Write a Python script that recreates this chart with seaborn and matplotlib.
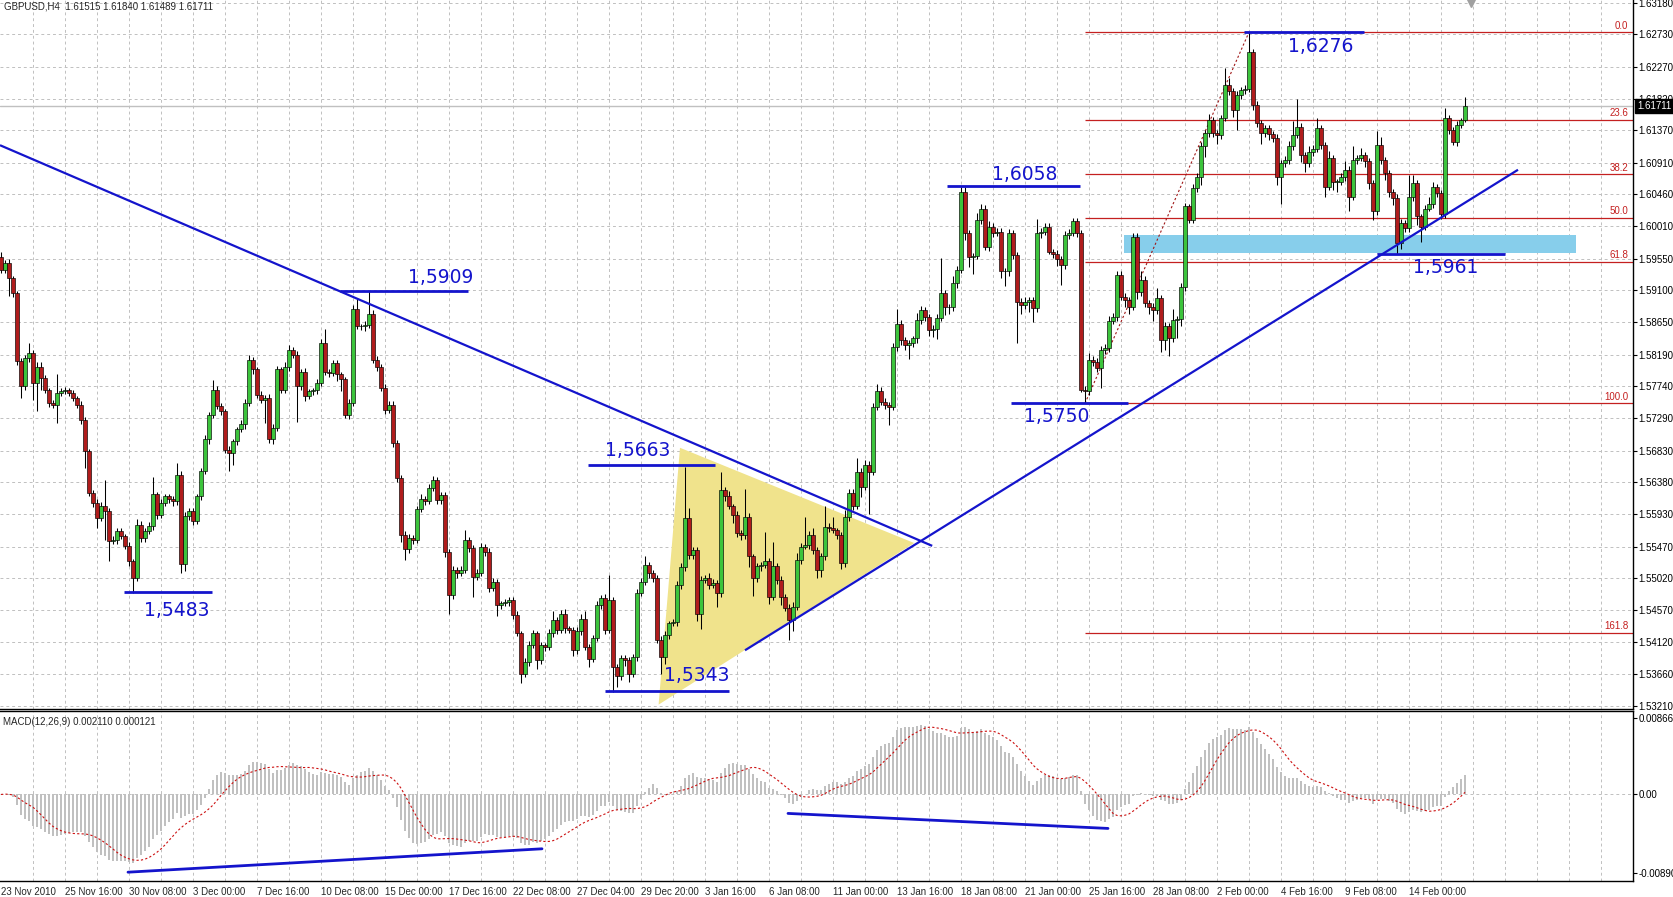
import numpy as np
import pandas as pd
import matplotlib
matplotlib.use("Agg")
import matplotlib.pyplot as plt
import matplotlib.transforms as mtransforms
from matplotlib.patches import Polygon, Rectangle
import seaborn as sns

# =========================
# DATA (GBPUSD H4)
# =========================
first_open = 1.5958

closes = [
    1.5939, 1.5949, 1.5928, 1.5906, 1.5810, 1.5774, 1.5814, 1.5821, 1.5779, 1.5802,
    1.5786, 1.5769, 1.5751, 1.5748, 1.5765, 1.5767, 1.5769, 1.5765, 1.5758, 1.5748,
    1.5727, 1.5682, 1.5623, 1.5609, 1.5588, 1.5604, 1.5597, 1.5555, 1.5557, 1.5569,
    1.5562, 1.5548, 1.5526, 1.5503, 1.5578, 1.5559, 1.5569, 1.5576, 1.5621, 1.5592,
    1.5609, 1.5618, 1.5614, 1.5611, 1.5649, 1.5522, 1.5590, 1.5597, 1.5583, 1.5618,
    1.5654, 1.5699, 1.5734, 1.5769, 1.5746, 1.5739, 1.5684, 1.5680, 1.5696, 1.5713,
    1.5720, 1.5751, 1.5812, 1.5798, 1.5762, 1.5755, 1.5758, 1.5699, 1.5715, 1.5798,
    1.5769, 1.5802, 1.5826, 1.5819, 1.5774, 1.5795, 1.5760, 1.5767, 1.5769, 1.5779,
    1.5836, 1.5795, 1.5793, 1.5807, 1.5791, 1.5784, 1.5734, 1.5751, 1.5883, 1.5859,
    1.5859, 1.5861, 1.5876, 1.5812, 1.5802, 1.5772, 1.5741, 1.5748, 1.5694, 1.5644,
    1.5564, 1.5543, 1.5559, 1.5557, 1.5600, 1.5615, 1.5612, 1.5630, 1.5641, 1.5613,
    1.5620, 1.5540, 1.5478, 1.5514, 1.5509, 1.5514, 1.5556, 1.5545, 1.5504, 1.5509,
    1.5547, 1.5540, 1.5488, 1.5497, 1.5464, 1.5467, 1.5469, 1.5471, 1.5450, 1.5424,
    1.5367, 1.5384, 1.5407, 1.5424, 1.5386, 1.5407, 1.5405, 1.5424, 1.5443, 1.5429,
    1.5452, 1.5431, 1.5429, 1.5400, 1.5428, 1.5445, 1.5405, 1.5388, 1.5417, 1.5464,
    1.5474, 1.5429, 1.5471, 1.5377, 1.5363, 1.5389, 1.5386, 1.5367, 1.5391, 1.5481,
    1.5497, 1.5521, 1.5509, 1.5502, 1.5415, 1.5391, 1.5421, 1.5438, 1.5440, 1.5492,
    1.5518, 1.5587, 1.5535, 1.5542, 1.5452, 1.5500, 1.5503, 1.5493, 1.5496, 1.5481,
    1.5627, 1.5618, 1.5604, 1.5592, 1.5566, 1.5563, 1.5589, 1.5533, 1.5502, 1.5519,
    1.5521, 1.5526, 1.5476, 1.5519, 1.5500, 1.5476, 1.5460, 1.5443, 1.5462, 1.5528,
    1.5547, 1.5549, 1.5563, 1.5542, 1.5514, 1.5533, 1.5575, 1.5574, 1.5570, 1.5563,
    1.5523, 1.5589, 1.5623, 1.5604, 1.5653, 1.5632, 1.5663, 1.5653, 1.5745, 1.5767,
    1.5752, 1.5748, 1.5745, 1.5830, 1.5863, 1.5840, 1.5833, 1.5835, 1.5842, 1.5868,
    1.5882, 1.5873, 1.5854, 1.5856, 1.5871, 1.5906, 1.5887, 1.5886, 1.5920, 1.5939,
    1.6050, 1.5991, 1.5958, 1.5959, 1.6010, 1.6026, 1.5972, 1.6000, 1.5991, 1.5993,
    1.5937, 1.5937, 1.5991, 1.5960, 1.5894, 1.5889, 1.5894, 1.5896, 1.5885, 1.5991,
    1.5993, 1.6000, 1.5965, 1.5962, 1.5955, 1.5946, 1.5989, 1.5991, 1.6008, 1.5991,
    1.5769, 1.5767, 1.5811, 1.5809, 1.5800, 1.5826, 1.5828, 1.5866, 1.5873, 1.5932,
    1.5901, 1.5896, 1.5887, 1.5986, 1.5908, 1.5925, 1.5892, 1.5887, 1.5882, 1.5899,
    1.5840, 1.5859, 1.5842, 1.5868, 1.5870, 1.5915, 1.6029, 1.6010, 1.6055, 1.6071,
    1.6114, 1.6133, 1.6152, 1.6133, 1.6130, 1.6154, 1.6201, 1.6192, 1.6166, 1.6187,
    1.6194, 1.6196, 1.6248, 1.6173, 1.6147, 1.6133, 1.6140, 1.6131, 1.6126, 1.6071,
    1.6090, 1.6095, 1.6114, 1.6130, 1.6142, 1.6102, 1.6090, 1.6106, 1.6111, 1.6140,
    1.6116, 1.6057, 1.6097, 1.6064, 1.6064, 1.6071, 1.6081, 1.6043, 1.6095, 1.6097,
    1.6102, 1.6093, 1.6062, 1.6022, 1.6116, 1.6095, 1.6076, 1.6050, 1.6041, 1.5977,
    1.6005, 1.5998, 1.6043, 1.6062, 1.6015, 1.6000, 1.6026, 1.6033, 1.6057, 1.6048,
    1.6019, 1.6154, 1.6137, 1.6121, 1.6145, 1.6152, 1.6171,
]

# wick lengths in pips above / below the body
upper_wick = [
    6, 4, 5, 3, 3, 4, 5, 15, 4, 6,   7, 4, 3, 4, 26, 5, 4, 3, 4, 3,
    5, 4, 3, 4, 5, 6, 38, 4, 5, 4,   4, 3, 5, 4, 8, 5, 4, 6, 24, 4,
    5, 4, 3, 4, 16, 5, 6, 4, 5, 4,   5, 6, 4, 14, 5, 4, 3, 5, 4, 4,
    6, 5, 7, 4, 3, 5, 4, 5, 6, 5,    4, 6, 7, 4, 5, 4, 5, 4, 3, 6,
    5, 20, 4, 5, 4, 3, 4, 5, 6, 15,  4, 5, 33, 6, 5, 4, 5, 6, 5, 4,
    4, 5, 6, 4, 5, 6, 4, 5, 6, 5,    4, 5, 4, 6, 4, 5, 15, 5, 4, 6,
    5, 4, 5, 6, 4, 3, 4, 5, 4, 5,    4, 5, 6, 5, 4, 5, 4, 6, 12, 4,
    5, 6, 4, 4, 5, 6, 10, 4, 5, 6,   5, 6, 35, 4, 3, 5, 4, 5, 4, 6,
    5, 12, 4, 5, 4, 5, 6, 4, 5, 6,   5, 73, 15, 5, 4, 5, 4, 6, 5, 4,
    25, 5, 8, 4, 5, 4, 40, 5, 4, 5,  4, 42, 5, 35, 4, 5, 4, 5, 6, 10,
    5, 40, 6, 10, 4, 5, 30, 5, 15, 4, 5, 10, 6, 6, 20, 5, 6, 5, 5, 10,
    6, 5, 4, 5, 20, 5, 4, 5, 3, 10,  6, 5, 4, 5, 6, 50, 5, 4, 10, 5,
    7, 6, 5, 4, 10, 6, 5, 8, 5, 5,   6, 5, 6, 5, 4, 5, 6, 5, 4, 20,
    5, 6, 5, 4, 5, 4, 5, 6, 5, 5,    4, 5, 10, 6, 5, 5, 6, 8, 5, 6,
    5, 6, 5, 5, 6, 12, 5, 4, 5, 15,  5, 6, 5, 15, 4, 6, 5, 4, 6, 5,
    6, 5, 8, 4, 5, 5, 24, 10, 5, 6,  5, 5, 28, 4, 5, 4, 5, 4, 5, 6,
    5, 5, 8, 20, 40, 5, 4, 8, 5, 15, 4, 5, 10, 5, 4, 5, 12, 5, 20, 5,
    10, 4, 5, 5, 20, 12, 4, 5, 4, 5, 6, 5, 30, 12, 5, 4, 5, 10, 6, 4,
    5, 15, 5, 4, 5, 3, 13,
]
lower_wick = [
    5, 4, 26, 5, 6, 16, 5, 6, 24, 40,  17, 5, 6, 4, 26, 5, 4, 5, 4, 5,
    6, 24, 5, 6, 14, 5, 40, 28, 5, 6,  4, 5, 6, 22, 5, 6, 5, 4, 5, 6,
    5, 4, 5, 6, 5, 12, 10, 5, 6, 4,    5, 4, 6, 5, 4, 6, 5, 26, 18, 5,
    4, 6, 5, 6, 5, 4, 33, 5, 6, 4,     5, 4, 6, 5, 50, 5, 6, 4, 5, 6,
    5, 5, 6, 4, 10, 17, 5, 6, 5, 4,    5, 6, 4, 5, 6, 4, 6, 5, 6, 5,
    10, 15, 5, 6, 5, 4, 6, 5, 4, 6,    5, 8, 26, 5, 6, 4, 5, 6, 28, 5,
    4, 6, 5, 4, 15, 5, 4, 6, 5, 4,     14, 5, 6, 4, 12, 5, 6, 4, 5, 6,
    5, 6, 4, 8, 5, 6, 5, 12, 5, 4,     5, 6, 5, 36, 15, 5, 8, 12, 5, 6,
    4, 5, 6, 5, 5, 25, 10, 5, 4, 6,    5, 5, 6, 5, 10, 22, 5, 6, 5, 20,
    5, 6, 4, 12, 5, 6, 5, 15, 25, 5,   6, 5, 10, 5, 6, 12, 5, 28, 15, 5,
    6, 4, 5, 6, 12, 10, 5, 6, 4, 5,    8, 5, 6, 5, 4, 15, 5, 60, 5, 4,
    5, 6, 26, 5, 6, 8, 8, 20, 5, 6,    5, 6, 8, 10, 15, 4, 12, 10, 5, 6,
    5, 10, 15, 25, 5, 6, 5, 6, 5, 4,   10, 21, 6, 5, 59, 12, 5, 15, 20, 5,
    6, 5, 4, 6, 10, 28, 5, 6, 4, 5,    3, 17, 5, 6, 5, 28, 6, 5, 4, 6,
    5, 10, 10, 5, 10, 6, 5, 10, 15, 6, 17, 15, 25, 5, 25, 10, 6, 4, 5, 6,
    12, 15, 5, 6, 12, 5, 4, 5, 10, 29, 5, 6, 5, 8, 5, 15, 5, 8, 5, 12,
    38, 5, 6, 5, 4, 10, 12, 5, 6, 5,   5, 15, 5, 12, 15, 5, 6, 20, 5, 6,
    4, 8, 8, 12, 5, 6, 10, 8, 10, 16,  8, 5, 5, 6, 12, 22, 5, 4, 6, 5,
    8, 6, 5, 5, 6, 5, 3,
]

date_labels = [
    "23 Nov 2010", "25 Nov 16:00", "30 Nov 08:00", "3 Dec 00:00", "7 Dec 16:00",
    "10 Dec 08:00", "15 Dec 00:00", "17 Dec 16:00", "22 Dec 08:00", "27 Dec 04:00",
    "29 Dec 20:00", "3 Jan 16:00", "6 Jan 08:00", "11 Jan 00:00", "13 Jan 16:00",
    "18 Jan 08:00", "21 Jan 00:00", "25 Jan 16:00", "28 Jan 08:00", "2 Feb 00:00",
    "4 Feb 16:00", "9 Feb 08:00", "14 Feb 00:00",
]
price_labels = [
    "1.63180", "1.62730", "1.62270", "1.61820", "1.61370", "1.60910", "1.60460",
    "1.60010", "1.59550", "1.59100", "1.58650", "1.58190", "1.57740", "1.57290",
    "1.56830", "1.56380", "1.55930", "1.55470", "1.55020", "1.54570", "1.54120",
    "1.53660", "1.53210",
]
macd_labels = ["0.008668", "0.00", "-0.00890"]

last_price = 1.61711
title_text = "GBPUSD,H4  1.61515 1.61840 1.61489 1.61711"
macd_text = "MACD(12,26,9) 0.002110 0.000121"

# support / resistance marks
level_prices = [1.5909, 1.5483, 1.5663, 1.5343, 1.6058, 1.5750, 1.6276, 1.5961]
level_labels = ["1,5909", "1,5483", "1,5663", "1,5343", "1,6058", "1,5750", "1,6276", "1,5961"]

# fibonacci (100 -> 0)
fib_low, fib_high = 1.5750, 1.6276
fib_levels = [0.0, 23.6, 38.2, 50.0, 61.8, 100.0, 161.8]

# =========================
# LAYOUT (bar index / price coordinates of the drawn objects)
# =========================
level_spans = [(84.8, 116.8), (30.8, 52.8), (146.8, 178.5), (151.0, 182.0),
               (236.5, 269.8), (252.5, 281.8), (310.8, 340.8), (344.0, 376.0)]
level_text_pos = [(101.8, 1.5928), (35.8, 1.5456), (151.0, 1.5683), (165.8, 1.5364),
                  (247.7, 1.6074), (255.8, 1.5731), (321.8, 1.62555), (353.0, 1.5943)]
down_trend = [(-0.25, 1.61158), (232.8, 1.5548)]
up_trend = [(186.0, 1.5400), (379.25, 1.6081)]
triangle = [(169.75, 1.5687), (164.4, 1.5323), (228.3, 1.5552)]
zone = (280.75, 393.7, 1.5963, 1.5989)
fib_start = 271
macd_div1 = [(31.75, -0.00881), (135.25, -0.00616)]
macd_div2 = [(196.75, -0.00215), (276.75, -0.00385)]

# =========================
# STYLE
# =========================
sns.set_style("white")
plt.rcParams["font.family"] = ["Liberation Sans", "DejaVu Sans"]
plt.rcParams["font.size"] = 7

BLUE = "#1414cc"
FIB = "#c42020"
GRID = "#c0c0c0"
BULL = "#3cc43c"
BEAR = "#b01c1c"

c = np.array(closes)
o = np.r_[first_open, c[:-1]]
hi = np.maximum(o, c) + np.array(upper_wick) * 1e-4
lo = np.minimum(o, c) - np.array(lower_wick) * 1e-4
x = np.arange(len(c))
up = c >= o

s = pd.Series(c)
macd = s.ewm(span=12, adjust=False).mean() - s.ewm(span=26, adjust=False).mean()
signal = macd.rolling(9, min_periods=1).mean()

W, H = 1674, 897
fig = plt.figure(figsize=(W / 100, H / 100), dpi=100)
right = 1633 / W
ax = fig.add_axes([0, 1 - 708.5 / H, right, 708.5 / H])
ax2 = fig.add_axes([0, 1 - 881 / H, right, 170 / H], sharex=ax)

xmin, xmax = -0.25, 408
ax.set_xlim(xmin, xmax)
ax.set_ylim(1.53175, 1.63216)
ax2.set_ylim(-0.00981, 0.00946)

# grid
price_vals = [float(p) for p in price_labels]
for p in price_vals:
    ax.axhline(p, color=GRID, lw=0.7, ls=(0, (3, 3)), zorder=0)
for gx in range(8, 409, 8):
    ax.axvline(gx, color=GRID, lw=0.7, ls=(0, (3, 3)), zorder=0)
    ax2.axvline(gx, color=GRID, lw=0.7, ls=(0, (3, 3)), zorder=0)
ax2.axhline(0, color=GRID, lw=0.7, ls=(0, (3, 3)), zorder=0)

# background objects
ax.add_patch(Polygon(triangle, closed=True, fc="#f0e38c", ec="none", zorder=1))
ax.add_patch(Rectangle((zone[0], zone[2]), zone[1] - zone[0], zone[3] - zone[2],
                       fc="#87ceeb", ec="none", zorder=1))
ax.axhline(last_price, color="#c0c0c0", lw=1.0, zorder=1)

for lvl in fib_levels:
    p = fib_high - lvl / 100 * (fib_high - fib_low)
    ax.hlines(p, fib_start, xmax, color=FIB, lw=0.9, zorder=2)
    ax.text(406.8, p + 0.0002, f"{lvl:.1f}", color=FIB, fontsize=7,
            ha="right", va="bottom", zorder=2)
ax.plot([fib_start, 312], [fib_low, fib_high], color="#a01818", lw=0.8,
        ls=(0, (2, 2)), zorder=2)

# candles
ax.vlines(x, lo, hi, color="black", lw=0.75, zorder=3)
body = np.maximum(np.abs(c - o), 0.00004)
ax.bar(x[up], body[up], bottom=o[up], width=0.8, color=BULL,
       edgecolor="black", lw=0.45, zorder=4)
ax.bar(x[~up], body[~up], bottom=c[~up], width=0.8, color=BEAR,
       edgecolor="black", lw=0.45, zorder=4)

# trend lines and levels
for seg in (down_trend, up_trend):
    ax.plot([seg[0][0], seg[1][0]], [seg[0][1], seg[1][1]], color=BLUE,
            lw=1.6, zorder=5, solid_capstyle="butt")
for p, (a, b), lab, (tx, ty) in zip(level_prices, level_spans, level_labels, level_text_pos):
    ax.hlines(p, a, b, color=BLUE, lw=2.0, zorder=5)
    ax.text(tx, ty, lab, color=BLUE, fontsize=13.5, ha="left", va="center",
            family="DejaVu Sans", zorder=6)

# MACD panel
ax2.bar(x, macd, width=0.7, color="#c0c0c0", lw=0, zorder=2)
sns.lineplot(x=x, y=signal.values, ax=ax2, color="#cc1010", lw=0.8,
             linestyle=(0, (2, 2)), zorder=3)
for seg in (macd_div1, macd_div2):
    ax2.plot([seg[0][0], seg[1][0]], [seg[0][1], seg[1][1]], color=BLUE,
             lw=2.0, zorder=4)

# axes cosmetics
for a in (ax, ax2):
    a.spines["left"].set_visible(False)
    for sp in ("right", "bottom", "top"):
        a.spines[sp].set_color("black")
        a.spines[sp].set_linewidth(1.0)
    a.yaxis.tick_right()
    a.tick_params(axis="y", length=3, width=0.8, pad=1, labelsize=7, colors="black")
ax.spines["top"].set_visible(False)

ax.set_yticks(price_vals)
ax.set_yticklabels(price_labels)
ax.tick_params(axis="x", length=0, labelbottom=False)

ax2.set_yticks([0.008668, 0.0, -0.0089])
ax2.set_yticklabels(macd_labels)
ax2.set_xticks(np.arange(len(date_labels)) * 16)
ax2.set_xticklabels(date_labels)
for lbl in ax2.get_xticklabels():
    lbl.set_ha("left")
ax2.tick_params(axis="x", length=3, width=0.8, pad=1, labelsize=7)
ax2.set_xlabel("")
ax2.set_ylabel("")
ax.set_xlim(xmin, xmax)

# texts
ax.text(0.0025, 0.9905, title_text, transform=ax.transAxes, fontsize=7,
        ha="left", va="center")
ax2.text(0.002, 0.935, macd_text, transform=ax2.transAxes, fontsize=7,
         ha="left", va="center")
trans = mtransforms.blended_transform_factory(ax.transAxes, ax.transData)
ax.text(1.0 + 4 / 1633, last_price, "1.61711", transform=trans, color="white",
        fontsize=7, ha="left", va="center", clip_on=False, zorder=10,
        bbox=dict(boxstyle="square,pad=0.22", fc="black", ec="black"))
trans2 = mtransforms.blended_transform_factory(ax.transData, ax.transAxes)
ax.plot([367.5], [0.996], marker="v", color="#a0a0a0", ms=6,
        transform=trans2, clip_on=False, zorder=10)

fig.savefig("out.png", dpi=100)
